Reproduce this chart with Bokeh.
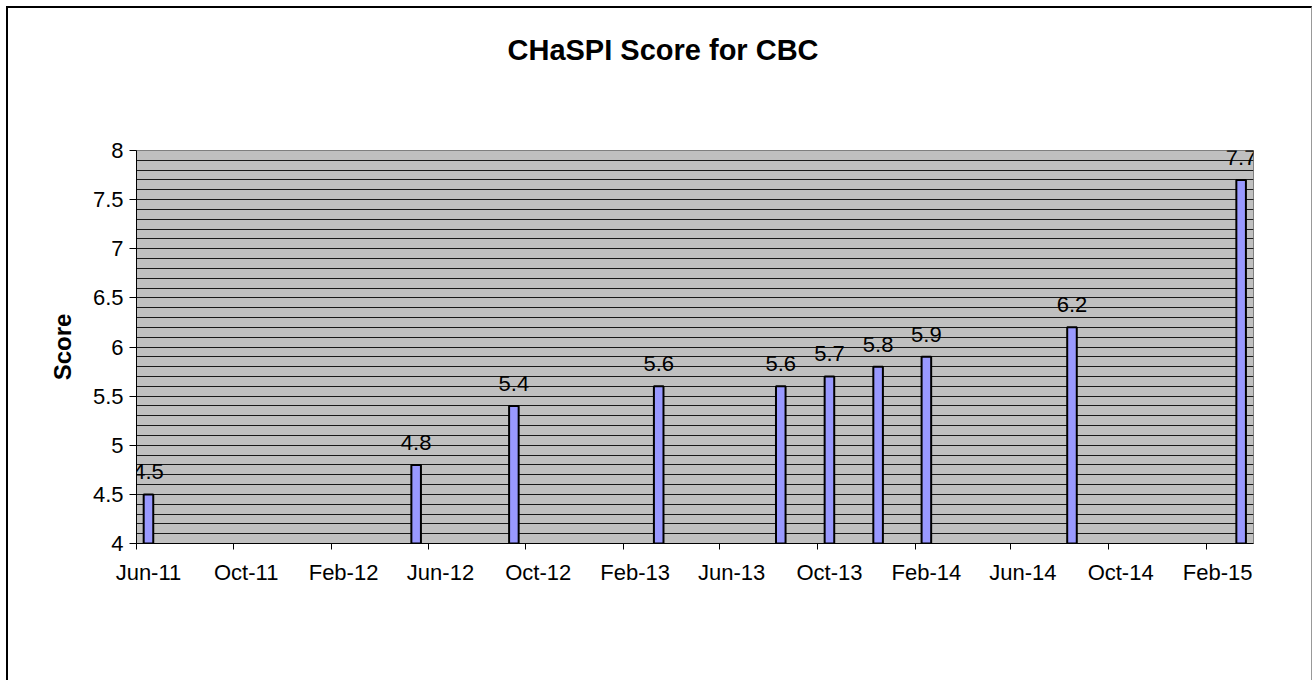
import numpy as np
import pandas as pd
from bokeh.plotting import figure
from bokeh.models import (ColumnDataSource, LabelSet, Range1d, FixedTicker,
                          DatetimeTickFormatter, Title)
from bokeh.core.properties import value
from bokeh.embed import file_html
from bokeh.resources import INLINE

# ---- data ----
months = ["2011-06", "2012-05", "2012-09", "2013-03", "2013-08",
          "2013-10", "2013-12", "2014-02", "2014-08", "2015-03"]
scores = [4.5, 4.8, 5.4, 5.6, 5.6, 5.7, 5.8, 5.9, 6.2, 7.7]
tick_months = ["2011-06", "2011-10", "2012-02", "2012-06", "2012-10", "2013-02",
               "2013-06", "2013-10", "2014-02", "2014-06", "2014-10", "2015-02"]
x_start_month = "2011-06"
x_end_month = "2015-04"
y_min, y_max = 4, 8
title_text = "CHaSPI Score for CBC"
y_label = "Score"

def month_start_ms(m):
    return pd.Timestamp(m + "-01").value / 1e6

def month_mid_ms(m):
    s = pd.Timestamp(m + "-01")
    e = s + pd.offsets.MonthBegin(1)
    return (s.value + e.value) / 2 / 1e6

DAY = 86400000.0

src = ColumnDataSource(dict(
    x=[month_mid_ms(m) for m in months],
    y=scores,
    lbl=[f"{v:g}" for v in scores],
))

FONT = "Liberation Sans"

p = figure(x_axis_type="datetime", output_backend="svg", toolbar_location=None,
           frame_width=1117, frame_height=393,
           min_border_left=128, min_border_right=58,
           min_border_top=142, min_border_bottom=137,
           x_range=Range1d(month_start_ms(x_start_month), month_start_ms(x_end_month)),
           y_range=Range1d(y_min, y_max))
p.styles = {"margin-left": "6px", "margin-top": "6px",
            "border-left": "2px solid #000", "border-top": "2px solid #000",
            "border-right": "1px solid #999"}

# real title
p.title.text = title_text
p.title.align = "left"
p.title.offset = 371
p.title.standoff = 0
p.title.text_font = FONT
p.title.text_font_size = "29px"
p.title.text_font_style = "bold"
p.title.text_color = "#000"

# spacer between title and plot area
p.add_layout(Title(text=" ", text_font_size="1px", standoff=82), "above")

p.background_fill_color = "#C0C0C0"
p.border_fill_color = "white"
p.outline_line_color = "#808080"
p.outline_line_width = 1

# y axis / grid
p.yaxis.ticker = FixedTicker(ticks=list(np.arange(4, 8.01, 0.5)),
                             minor_ticks=list(np.round(np.arange(4, 8.01, 0.1), 2)))
p.ygrid.grid_line_color = "#1a1a1a"
p.ygrid.grid_line_width = 1
p.ygrid.minor_grid_line_color = "#1a1a1a"
p.ygrid.minor_grid_line_width = 1
p.xgrid.grid_line_color = None
p.yaxis.minor_tick_line_color = None
p.yaxis.major_tick_out = 7
p.yaxis.major_tick_in = 0
p.yaxis.axis_line_color = "#000"
p.yaxis.major_tick_line_color = "#000"
p.yaxis.major_label_text_font = FONT
p.yaxis.major_label_text_font_size = "22px"
p.yaxis.major_label_text_color = "#000"
p.yaxis.major_label_standoff = 6
p.yaxis.axis_label = y_label
p.yaxis.axis_label_text_font = FONT
p.yaxis.axis_label_text_font_size = "24px"
p.yaxis.axis_label_text_font_style = "bold"
p.yaxis.axis_label_text_color = "#000"
p.yaxis.axis_label_standoff = 14

# x axis: labels centred in month slot, tick marks at month boundaries
p.xaxis.ticker = FixedTicker(ticks=[month_mid_ms(m) for m in tick_months],
                             minor_ticks=[month_start_ms(m) for m in tick_months])
fmt = "%b-%y"
p.xaxis.formatter = DatetimeTickFormatter(milliseconds=fmt, seconds=fmt, minsec=fmt,
                                          minutes=fmt, hourmin=fmt, hours=fmt, days=fmt,
                                          months=fmt, years=fmt)
p.xaxis.major_tick_out = 0
p.xaxis.major_tick_in = 0
p.xaxis.minor_tick_out = 6
p.xaxis.minor_tick_in = 0
p.xaxis.minor_tick_line_color = "#000"
p.xaxis.axis_line_color = "#000"
p.xaxis.major_label_text_font = FONT
p.xaxis.major_label_text_font_size = "22px"
p.xaxis.major_label_text_color = "#000"
p.xaxis.major_label_standoff = 10

p.vbar(x="x", top="y", bottom=y_min, width=12 * DAY, source=src,
       fill_color="#9999FF", line_color="#000", line_width=2)

p.add_layout(LabelSet(x="x", y="y", text="lbl", source=src, y_offset=15,
                      text_align="center", text_baseline="alphabetic",
                      text_font=value(FONT), text_font_size=value("22px"),
                      text_color="#000"))

open("out.html", "w").write(file_html(p, INLINE))
